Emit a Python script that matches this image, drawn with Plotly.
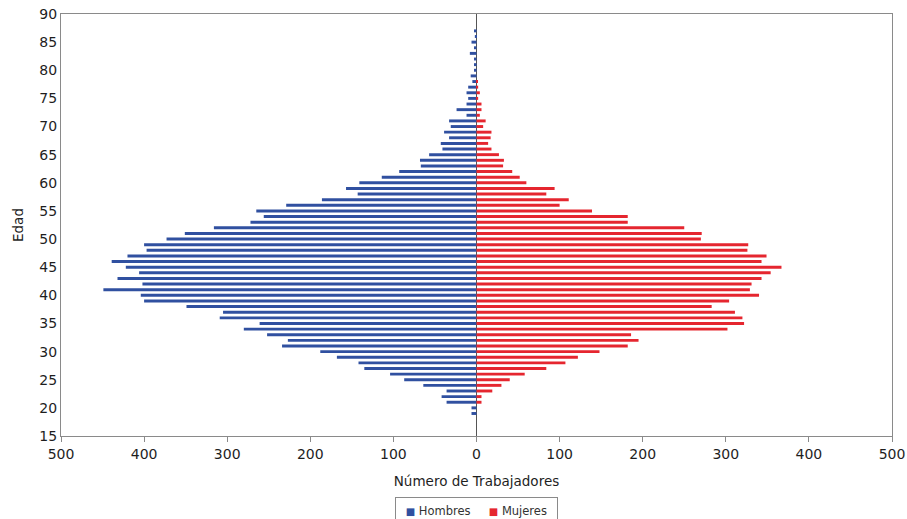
import plotly.graph_objects as go

ages = list(range(19, 88))

# values listed from age 19 up to age 87
hombres = [6, 6, 36, 42, 36, 64, 87, 104, 135, 142, 168, 188, 234, 227, 252, 280, 261, 309, 305, 349,
           400, 404, 449, 402, 432, 406, 422, 439, 420, 397, 400, 373, 351, 316, 272, 256, 265, 229, 186, 143,
           157, 141, 114, 93, 67, 68, 57, 41, 43, 33, 39, 31, 33, 12, 24, 12, 10, 12, 10, 5,
           7, 3, 3, 3, 8, 3, 6, 2, 3]
mujeres = [0, 0, 6, 6, 19, 30, 40, 58, 84, 107, 122, 148, 182, 195, 186, 302, 322, 320, 311, 283,
           304, 340, 329, 331, 343, 354, 367, 343, 349, 326, 327, 270, 271, 250, 182, 182, 139, 100, 111, 84,
           94, 60, 52, 43, 32, 33, 27, 18, 14, 17, 18, 8, 11, 4, 6, 6, 2, 4, 2, 1,
           0, 0, 0, 0, 0, 0, 0, 0, 0]

xticks = [-500, -400, -300, -200, -100, 0, 100, 200, 300, 400, 500]
xlabels = ["500", "400", "300", "200", "100", "0", "100", "200", "300", "400", "500"]
series_names = ["Hombres", "Mujeres"]

blue = "#3050A0"
red = "#E5262F"
font = "DejaVu Sans, Liberation Sans, Arial, sans-serif"
txt = "#1e1e1e"

fig = go.Figure()
fig.add_trace(go.Bar(
    y=ages, x=[-v for v in hombres], orientation="h", name=series_names[0],
    marker=dict(color=blue, line=dict(width=0)), customdata=hombres,
    hovertemplate="Edad %{y}: %{customdata}<extra>Hombres</extra>"))
fig.add_trace(go.Bar(
    y=ages, x=mujeres, orientation="h", name=series_names[1],
    marker=dict(color=red, line=dict(width=0)), customdata=mujeres,
    hovertemplate="Edad %{y}: %{customdata}<extra>Mujeres</extra>"))

sq = "<span style='font-size:10px;color:{c}'>■</span>"
nb = "\u00a0"
legend_text = (nb + sq.format(c=blue) + " " + series_names[0] + "     "
               + sq.format(c=red) + " " + series_names[1] + nb)

fig.update_layout(
    width=907, height=519,
    margin=dict(l=61, r=15, t=14, b=83),
    barmode="relative", bargap=0.48,
    plot_bgcolor="white", paper_bgcolor="white",
    font=dict(family=font, size=13, color=txt),
    showlegend=False,
    annotations=[dict(
        text=legend_text, xref="paper", yref="paper", x=0.5, y=(436 - 497) / 422,
        xanchor="center", yanchor="top", showarrow=False,
        font=dict(size=11.5, color="#333333", family=font),
        bordercolor="#8a8a8a", borderwidth=1, borderpad=6, bgcolor="white")],
)
fig.update_xaxes(
    range=[-500, 500], tickvals=xticks, ticktext=xlabels, automargin=False,
    ticklabeloverflow="allow",
    showline=True, linecolor="#8a8a8a", linewidth=1, mirror=True,
    ticks="outside", ticklen=5, tickcolor="#8a8a8a",
    showgrid=False, zeroline=True, zerolinecolor="#555555", zerolinewidth=1,
    title=dict(text="Número de Trabajadores", standoff=15, font=dict(size=13.5, color=txt)),
    tickfont=dict(size=14, color=txt),
)
fig.update_yaxes(
    range=[15, 90], dtick=5, tick0=15, automargin=False,
    ticklabeloverflow="allow",
    showline=True, linecolor="#8a8a8a", linewidth=1, mirror=True,
    ticks="", showgrid=False, zeroline=False,
    title=dict(text="Edad", standoff=12, font=dict(size=13.5, color=txt)),
    tickfont=dict(size=14, color=txt),
)

# remove the default page margin so the figure fills the 907x519 window exactly
fig.write_html("out.html", config={"displayModeBar": False},
               post_script="document.body.style.margin='0';document.body.style.overflow='hidden';")
